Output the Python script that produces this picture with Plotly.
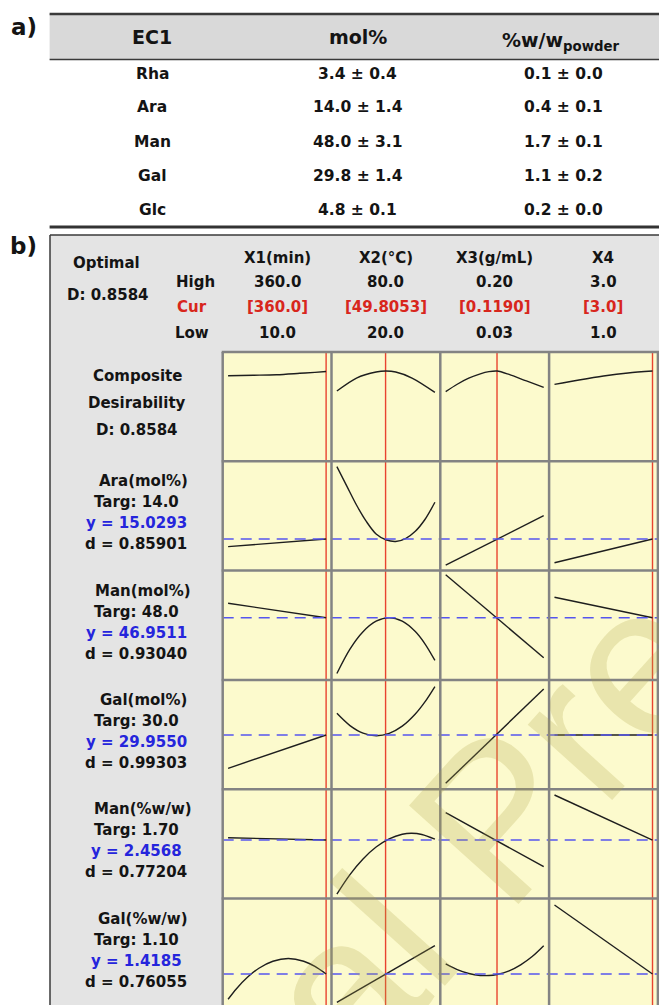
import plotly.graph_objects as go

W, H = 659, 1005

# ---------------- data : table a) ----------------
sugars = ["Rha", "Ara", "Man", "Gal", "Glc"]
mol_pct = ["3.4 ± 0.4", "14.0 ± 1.4", "48.0 ± 3.1", "29.8 ± 1.4", "4.8 ± 0.1"]
ww_powder = ["0.1 ± 0.0", "0.4 ± 0.1", "1.7 ± 0.1", "1.1 ± 0.2", "0.2 ± 0.0"]

# ---------------- data : panel b) ----------------
factors = ["X1(min)", "X2(°C)", "X3(g/mL)", "X4"]
high_vals = [360.0, 80.0, 0.20, 3.0]
cur_vals = [360.0, 49.8053, 0.1190, 3.0]
low_vals = [10.0, 20.0, 0.03, 1.0]
high_lbl = ["360.0", "80.0", "0.20", "3.0"]
cur_lbl = ["[360.0]", "[49.8053]", "[0.1190]", "[3.0]"]
low_lbl = ["10.0", "20.0", "0.03", "1.0"]
optimal_D = "0.8584"

resp_names = ["Ara", "Man", "Gal", "Man", "Gal"]
resp_units = ["(mol%)", "(mol%)", "(mol%)", "(%w/w)", "(%w/w)"]
targets = ["14.0", "48.0", "30.0", "1.70", "1.10"]
y_pred = ["15.0293", "46.9511", "29.9550", "2.4568", "1.4185"]
d_ind = ["0.85901", "0.93040", "0.99303", "0.77204", "0.76055"]

# profile curves: factor settings and relative response height in each cell (0 = bottom, 1 = top)
comp_x = [[10, 100, 183, 266, 320, 360],
          [20, 32, 44, 50, 56, 66, 80],
          [0.03, 0.05, 0.07, 0.09, 0.105, 0.119, 0.14, 0.17, 0.20],
          [1.0, 1.5, 2.0, 2.5, 3.0]]
comp_y = [[0.783, 0.787, 0.792, 0.805, 0.814, 0.822],
          [0.643, 0.762, 0.817, 0.826, 0.817, 0.762, 0.631],
          [0.637, 0.705, 0.760, 0.800, 0.820, 0.826, 0.795, 0.735, 0.677],
          [0.704, 0.744, 0.780, 0.808, 0.826]]

ara_x = [[10, 360],
         [20, 26, 32, 38, 44, 50, 56, 62, 68, 74, 80],
         [0.03, 0.20],
         [1.0, 3.0]]
ara_y = [[0.219, 0.289],
         [0.951, 0.775, 0.600, 0.450, 0.335, 0.282, 0.266, 0.293, 0.360, 0.470, 0.625],
         [0.051, 0.502],
         [0.072, 0.289]]

man_x = [[10, 360],
         [20, 28, 36, 44, 52, 60, 68, 74, 80],
         [0.03, 0.20],
         [1.0, 3.0]]
man_y = [[0.701, 0.569],
         [0.059, 0.282, 0.441, 0.537, 0.569, 0.537, 0.442, 0.328, 0.178],
         [0.962, 0.203],
         [0.756, 0.569]]

gal_x = [[10, 360],
         [20, 28, 36, 44.2, 52, 60, 68, 74, 80],
         [0.03, 0.20],
         [1.0, 3.0]]
gal_y = [[0.191, 0.496],
         [0.694, 0.582, 0.513, 0.489, 0.511, 0.577, 0.688, 0.801, 0.939],
         [0.054, 0.917],
         [0.496, 0.496]]

manw_x = [[10, 360],
          [20, 28, 36, 44, 52, 60, 65.7, 72, 80],
          [0.03, 0.20],
          [1.0, 3.0]]
manw_y = [[0.556, 0.535],
          [0.041, 0.219, 0.362, 0.471, 0.546, 0.588, 0.597, 0.586, 0.543],
          [0.785, 0.291],
          [0.947, 0.535]]

galw_x = [[10, 40, 80, 120, 170, 225, 280, 320, 360],
          [20, 80],
          [0.03, 0.05, 0.07, 0.09, 0.105, 0.119, 0.14, 0.16, 0.18, 0.20],
          [1.0, 3.0]]
galw_y = [[0.078, 0.175, 0.281, 0.362, 0.426, 0.451, 0.426, 0.378, 0.309],
          [0.050, 0.568],
          [0.401, 0.349, 0.314, 0.296, 0.295, 0.305, 0.338, 0.393, 0.469, 0.568],
          [0.941, 0.309]]

# predicted response at the current setting (relative height), one per response row
dash_y = [0.289, 0.569, 0.496, 0.535, 0.309]

rows_x = [comp_x, ara_x, man_x, gal_x, manw_x, galw_x]
rows_y = [comp_y, ara_y, man_y, gal_y, manw_y, galw_y]

# ---------------- geometry helpers ----------------
def px(x):
    return x / W


def py(y):
    return 1 - y / H


FONT = "DejaVu Sans"
BLACK = "#141414"
RED = "#d8261c"
BLUE = "#2525dc"

GX0, CW = 222.7, 108.8      # grid left edge, cell width (px)
GY0, RH = 352.0, 109.3      # grid top edge, cell height (px)

fig = go.Figure()
layout_axes = {}

for r in range(6):
    top = GY0 + RH * r
    bot = top + RH
    vis_bot = min(bot, H)
    y_lo = (bot - vis_bot) / RH
    for c in range(4):
        n = r * 4 + c + 1
        sfx = "" if n == 1 else str(n)
        span = high_vals[c] - low_vals[c]
        pad = 0.055 * span
        x0 = GX0 + CW * c
        x1 = min(x0 + CW, 657.9)
        layout_axes["xaxis" + sfx] = dict(domain=[px(x0), px(x1)],
                                          range=[low_vals[c] - pad, high_vals[c] + pad],
                                          visible=False, fixedrange=True, anchor="y" + sfx)
        layout_axes["yaxis" + sfx] = dict(domain=[py(vis_bot), py(top)], range=[y_lo, 1],
                                          visible=False, fixedrange=True, anchor="x" + sfx)
        # current setting (red vertical line)
        fig.add_trace(go.Scatter(x=[cur_vals[c], cur_vals[c]], y=[0, 1], mode="lines",
                                 line=dict(color="#e8432f", width=1.4),
                                 xaxis="x" + sfx, yaxis="y" + sfx, hoverinfo="skip"))
        # response profile
        fig.add_trace(go.Scatter(x=rows_x[r][c], y=rows_y[r][c], mode="lines",
                                 line=dict(color="#1e1e1e", width=1.4, shape="spline", smoothing=0.9),
                                 xaxis="x" + sfx, yaxis="y" + sfx, hoverinfo="skip"))

shapes = []
# panel b background and border
shapes.append(dict(type="rect", xref="paper", yref="paper", x0=px(50), x1=px(670),
                   y0=py(1015), y1=py(235), fillcolor="#e4e4e4", line=dict(width=0), layer="below"))
# yellow profile area
shapes.append(dict(type="rect", xref="paper", yref="paper", x0=px(GX0), x1=px(670),
                   y0=py(1015), y1=py(GY0), fillcolor="#fcfacd", line=dict(width=0), layer="below"))
shapes.append(dict(type="line", xref="paper", yref="paper", x0=px(50), x1=px(50),
                   y0=py(235), y1=py(1010), line=dict(color="#3a3a3a", width=1.5)))
shapes.append(dict(type="line", xref="paper", yref="paper", x0=px(50), x1=px(670),
                   y0=py(235), y1=py(235), line=dict(color="#3a3a3a", width=1.5)))
# table a header band and rules
shapes.append(dict(type="rect", xref="paper", yref="paper", x0=px(49.6), x1=px(670),
                   y0=py(59), y1=py(14), fillcolor="#d9d9d9", line=dict(width=0), layer="below"))
shapes.append(dict(type="line", xref="paper", yref="paper", x0=px(49.6), x1=px(670),
                   y0=py(14), y1=py(14), line=dict(color="#3a3a3a", width=2.5)))
shapes.append(dict(type="line", xref="paper", yref="paper", x0=px(49.6), x1=px(670),
                   y0=py(59.5), y1=py(59.5), line=dict(color="#3a3a3a", width=1.5)))
shapes.append(dict(type="line", xref="paper", yref="paper", x0=px(49.6), x1=px(670),
                   y0=py(227), y1=py(227), line=dict(color="#333333", width=3)))

# dashed predicted-response lines
for i, lvl in enumerate(dash_y):
    n = (i + 1) * 4 + 1
    shapes.append(dict(type="line", xref="paper", yref="y" + str(n), x0=px(GX0), x1=1.0,
                       y0=lvl, y1=lvl, line=dict(color="#5555ee", width=1.5, dash="11px,7px")))

# grid lines
for c in range(5):
    xg = min(GX0 + CW * c, 657.9)
    shapes.append(dict(type="line", xref="paper", yref="paper", x0=px(xg), x1=px(xg),
                       y0=py(GY0), y1=py(1010), line=dict(color="#838383", width=2.5)))
for r in range(6):
    yg = GY0 + RH * r
    shapes.append(dict(type="line", xref="paper", yref="paper", x0=px(GX0 - 1), x1=px(665),
                       y0=py(yg), y1=py(yg), line=dict(color="#838383", width=2.5)))

ann = []


def T(text, x, y, size=15, color=BLACK, family=FONT, weight="bold", xanchor="center"):
    ann.append(dict(text=text, x=px(x), y=py(y), xref="paper", yref="paper", showarrow=False,
                    xanchor=xanchor, yanchor="middle",
                    font=dict(family=family, size=size, color=color, weight=weight)))


# ---- table a) ----
T("a)", 24, 27, size=23)
T("EC1", 152, 37, size=19)
T("mol%", 358, 37, size=19)
T("%w/w<sub>powder</sub>", 561, 41, size=19)
row_y = [74, 107, 142, 176, 210]
for i in range(len(sugars)):
    T(sugars[i], 152, row_y[i], size=15.5)
    T(mol_pct[i], 358, row_y[i], size=15.5)
    T(ww_powder[i], 563, row_y[i], size=15.5)

# ---- panel b) header ----
T("b)", 23, 246, size=23)
T("Optimal", 107, 263)
T("D: " + optimal_D, 108, 295)
T("High", 195, 282)
T("Cur", 192, 307, color=RED)
T("Low", 192, 333)
for c in range(4):
    cx = GX0 + CW * c + CW / 2
    T(factors[c], cx, 258)
    T(high_lbl[c], cx, 282)
    T(cur_lbl[c], cx, 307, color=RED)
    T(low_lbl[c], cx, 333)

# ---- row labels ----
T("Composite", 137, 376)
T("Desirability", 137, 403)
T("D: " + optimal_D, 137, 430)
for i in range(5):
    top = GY0 + RH * (i + 1)
    T(resp_names[i] + resp_units[i], 143, top + 20)
    T("Targ: " + targets[i], 136, top + 41)
    T("y = " + y_pred[i], 136, top + 62, color=BLUE)
    T("d = " + d_ind[i], 136, top + 83)

# ---- watermark ----
ann.append(dict(text="Journal Pre-proof", x=px(495), y=py(818), xref="paper", yref="paper",
                showarrow=False, xanchor="center", yanchor="middle", textangle=-48,
                font=dict(family="Liberation Sans", size=214, color="rgba(175,165,70,0.24)")))

fig.update_layout(width=W, height=H, margin=dict(l=0, r=0, t=0, b=0),
                  paper_bgcolor="white", plot_bgcolor="rgba(0,0,0,0)", showlegend=False,
                  shapes=shapes, annotations=ann, **layout_axes)

fig.write_html("out.html")
